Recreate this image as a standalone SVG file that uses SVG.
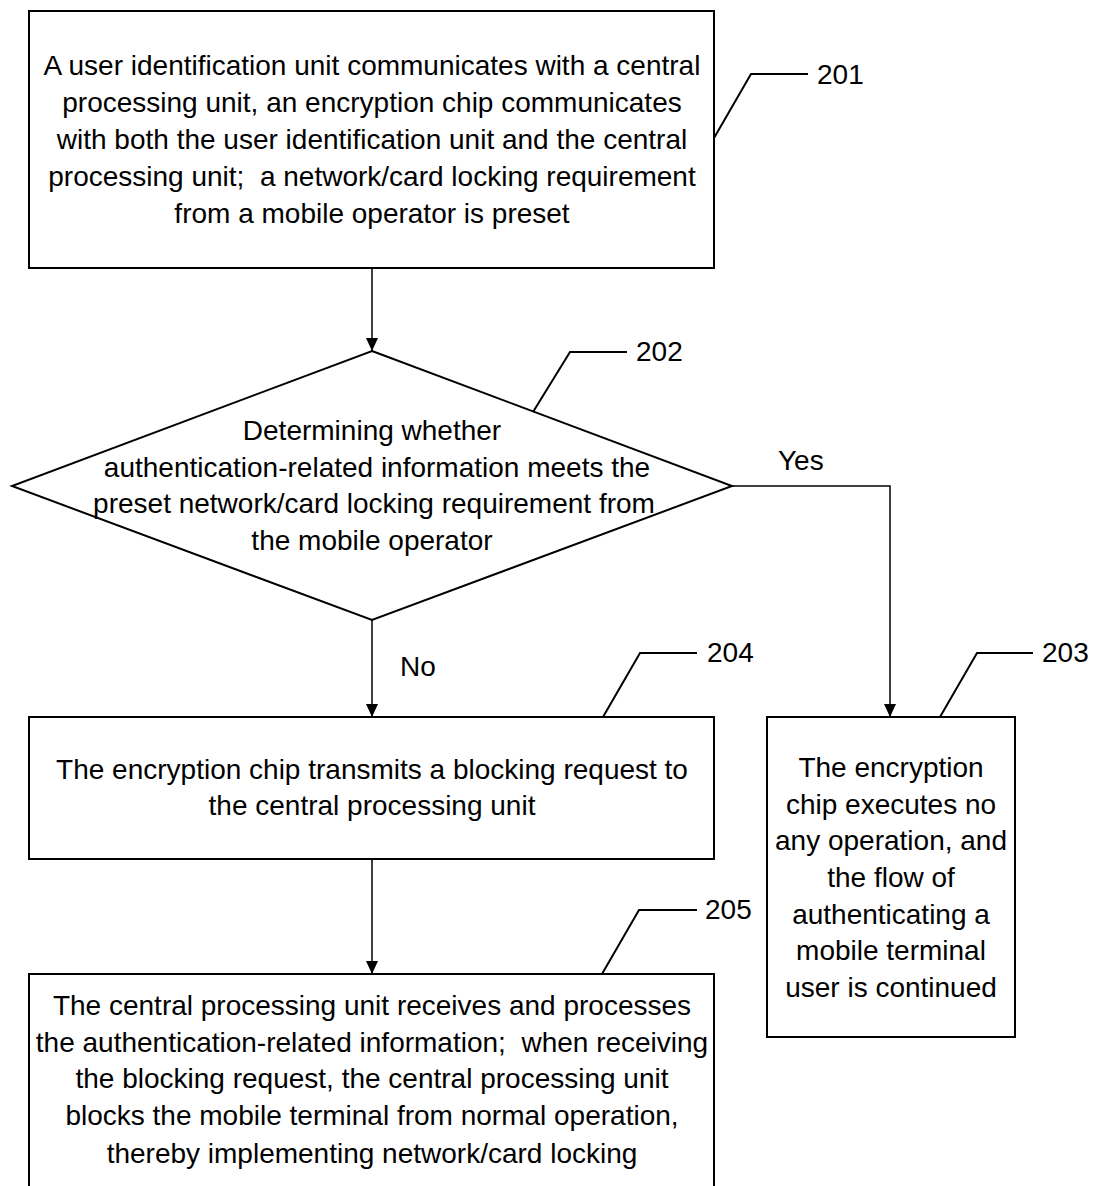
<svg xmlns="http://www.w3.org/2000/svg" width="1093" height="1186" viewBox="0 0 1093 1186">
<defs>
<style>
.box{fill:#fff;stroke:#000;stroke-width:2}
.conn{fill:none;stroke:#000;stroke-width:1.5}
.lead{fill:none;stroke:#000;stroke-width:2}
text{font-family:"Liberation Sans",Arial,sans-serif;font-size:28px;fill:#000}
.c{text-anchor:middle}
</style>
<marker id="arr" markerUnits="userSpaceOnUse" markerWidth="14" markerHeight="14" viewBox="0 0 14 14" refX="13" refY="7" orient="auto">
<path d="M0,1 L13,7 L0,13 Z" fill="#000"/>
</marker>
</defs>
<rect width="1093" height="1186" fill="#fff"/>
<g id="connectors">
<path class="conn" d="M372,268 V351" marker-end="url(#arr)"/>
<path class="conn" d="M732,486 H890 V717" marker-end="url(#arr)"/>
<path class="conn" d="M372,620 V717" marker-end="url(#arr)"/>
<path class="conn" d="M372,859 V974" marker-end="url(#arr)"/>
<text x="778" y="470">Yes</text>
<text x="400" y="676">No</text>
</g>
<g id="n201">
<rect class="box" x="29" y="11" width="685" height="257"/>
<text class="c" x="372" y="75">A user identification unit communicates with a central</text>
<text class="c" x="372" y="112">processing unit, an encryption chip communicates</text>
<text class="c" x="372" y="149">with both the user identification unit and the central</text>
<text class="c" x="372" y="186" xml:space="preserve">processing unit;  a network/card locking requirement</text>
<text class="c" x="372" y="223">from a mobile operator is preset</text>
<path class="lead" d="M714,138 L751,74 H808"/>
<text x="817" y="84">201</text>
</g>
<g id="n202">
<polygon points="372,351 732,486 372,620 12,486" fill="#fff" stroke="#000" stroke-width="2"/>
<text class="c" x="372" y="440">Determining whether</text>
<text class="c" x="377" y="477">authentication-related information meets the</text>
<text class="c" x="374" y="513">preset network/card locking requirement from</text>
<text class="c" x="372" y="550">the mobile operator</text>
<path class="lead" d="M533,412 L570,352 H627"/>
<text x="636" y="361">202</text>
</g>
<g id="n204">
<rect class="box" x="29" y="717" width="685" height="142"/>
<text class="c" x="372" y="779">The encryption chip transmits a blocking request to</text>
<text class="c" x="372" y="815">the central processing unit</text>
<path class="lead" d="M603,717 L640,653 H697"/>
<text x="707" y="662">204</text>
</g>
<g id="n203">
<rect class="box" x="767" y="717" width="248" height="320"/>
<text class="c" x="891" y="777">The encryption</text>
<text class="c" x="891" y="814">chip executes no</text>
<text class="c" x="891" y="850">any operation, and</text>
<text class="c" x="891" y="887">the flow of</text>
<text class="c" x="891" y="924">authenticating a</text>
<text class="c" x="891" y="960">mobile terminal</text>
<text class="c" x="891" y="997">user is continued</text>
<path class="lead" d="M940,717 L977,653 H1033"/>
<text x="1042" y="662">203</text>
</g>
<g id="n205">
<rect class="box" x="29" y="974" width="685" height="230"/>
<text class="c" x="372" y="1015">The central processing unit receives and processes</text>
<text class="c" x="372" y="1052" xml:space="preserve">the authentication-related information;  when receiving</text>
<text class="c" x="372" y="1088">the blocking request, the central processing unit</text>
<text class="c" x="372" y="1125">blocks the mobile terminal from normal operation,</text>
<text class="c" x="372" y="1163">thereby implementing network/card locking</text>
<path class="lead" d="M602,974 L639,910 H697"/>
<text x="705" y="919">205</text>
</g>
</svg>
